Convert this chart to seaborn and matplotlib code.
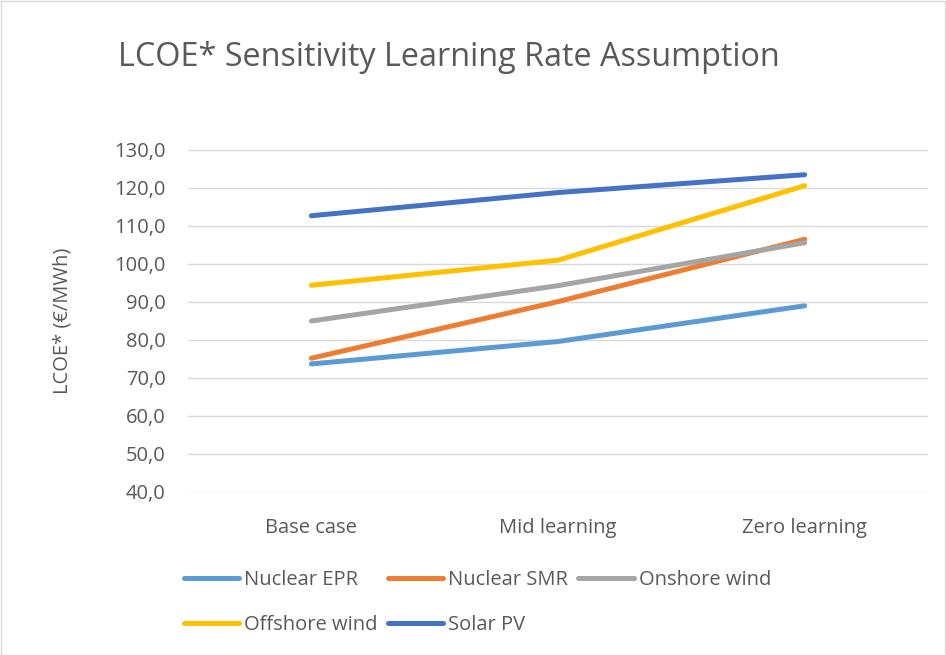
import matplotlib
matplotlib.use("Agg")
import matplotlib.pyplot as plt
import seaborn as sns
import pandas as pd
from matplotlib.ticker import FuncFormatter, MultipleLocator
from matplotlib.patches import Rectangle

scenarios = ["Base case", "Mid learning", "Zero learning"]
nuclear_epr = [73.7, 79.6, 89.0]
nuclear_smr = [75.2, 90.1, 106.5]
onshore_wind = [85.0, 94.3, 105.6]
offshore_wind = [94.4, 101.0, 120.6]
solar_pv = [112.7, 118.8, 123.5]

series_names = ["Nuclear EPR", "Nuclear SMR", "Onshore wind", "Offshore wind", "Solar PV"]
series_values = [nuclear_epr, nuclear_smr, onshore_wind, offshore_wind, solar_pv]
colors = ["#5B9BD5", "#ED7D31", "#A5A5A5", "#FFC000", "#4472C4"]

rows = []
for name, vals in zip(series_names, series_values):
    for i, (sc, v) in enumerate(zip(scenarios, vals)):
        rows.append({"Scenario": sc, "pos": i, "LCOE": v, "Technology": name})
df = pd.DataFrame(rows)

sns.set_theme(style="white")
plt.rcParams["font.family"] = ["Open Sans", "DejaVu Sans"]

fig = plt.figure(figsize=(9.46, 6.55), dpi=100)
ax = fig.add_axes([188 / 946, 1 - 492 / 655, (928 - 188) / 946, (492 - 150) / 655])

sns.lineplot(data=df, x="pos", y="LCOE", hue="Technology", hue_order=series_names,
             palette=colors, linewidth=3.6, ax=ax, legend=False,
             solid_capstyle="round", solid_joinstyle="round")

ax.set_xlim(-0.5, 2.5)
ax.set_ylim(40, 130)
ax.yaxis.set_major_locator(MultipleLocator(10))
ax.yaxis.set_major_formatter(FuncFormatter(lambda v, p: f"{v:.1f}".replace(".", ",")))
ax.set_xticks(range(len(scenarios)))
ax.set_xticklabels(scenarios)
ax.grid(axis="y", color="#D9D9D9", linewidth=1.0)
ax.set_axisbelow(True)
for s in ax.spines.values():
    s.set_visible(False)
ax.tick_params(axis="both", length=0, labelsize=14.5, labelcolor="#595959")
ax.tick_params(axis="y", pad=16)
ax.tick_params(axis="x", pad=19)
ax.set_xlabel("")
ax.set_ylabel("LCOE* (€/MWh)", fontsize=14.5, color="#595959", labelpad=30)

fig.text(118 / 946, 1 - 57 / 655, "LCOE* Sensitivity Learning Rate Assumption",
         fontsize=23.3, color="#595959", va="center", ha="left")

# legend entries filled row by row: three on top, two below
order = [0, 3, 1, 4, 2]
handles = [plt.Line2D([0], [0], color=colors[i], linewidth=3.6, solid_capstyle="round")
           for i in order]
labels = [series_names[i] for i in order]
leg = fig.legend(handles, labels, ncol=3, loc="upper left",
                 bbox_to_anchor=(176 / 946, 1 - 562 / 655), frameon=False,
                 fontsize=14.5, handlelength=2.75, handletextpad=0.25,
                 columnspacing=0.5, labelspacing=1.25, borderaxespad=0)
for t in leg.get_texts():
    t.set_color("#595959")

fig.patches.append(Rectangle((0.5 / 946, 0.5 / 655), 1 - 1.5 / 946, 1 - 1.5 / 655,
                             transform=fig.transFigure, fill=False,
                             edgecolor="#D9D9D9", linewidth=1))

fig.savefig("out.png", dpi=100, facecolor="white")
